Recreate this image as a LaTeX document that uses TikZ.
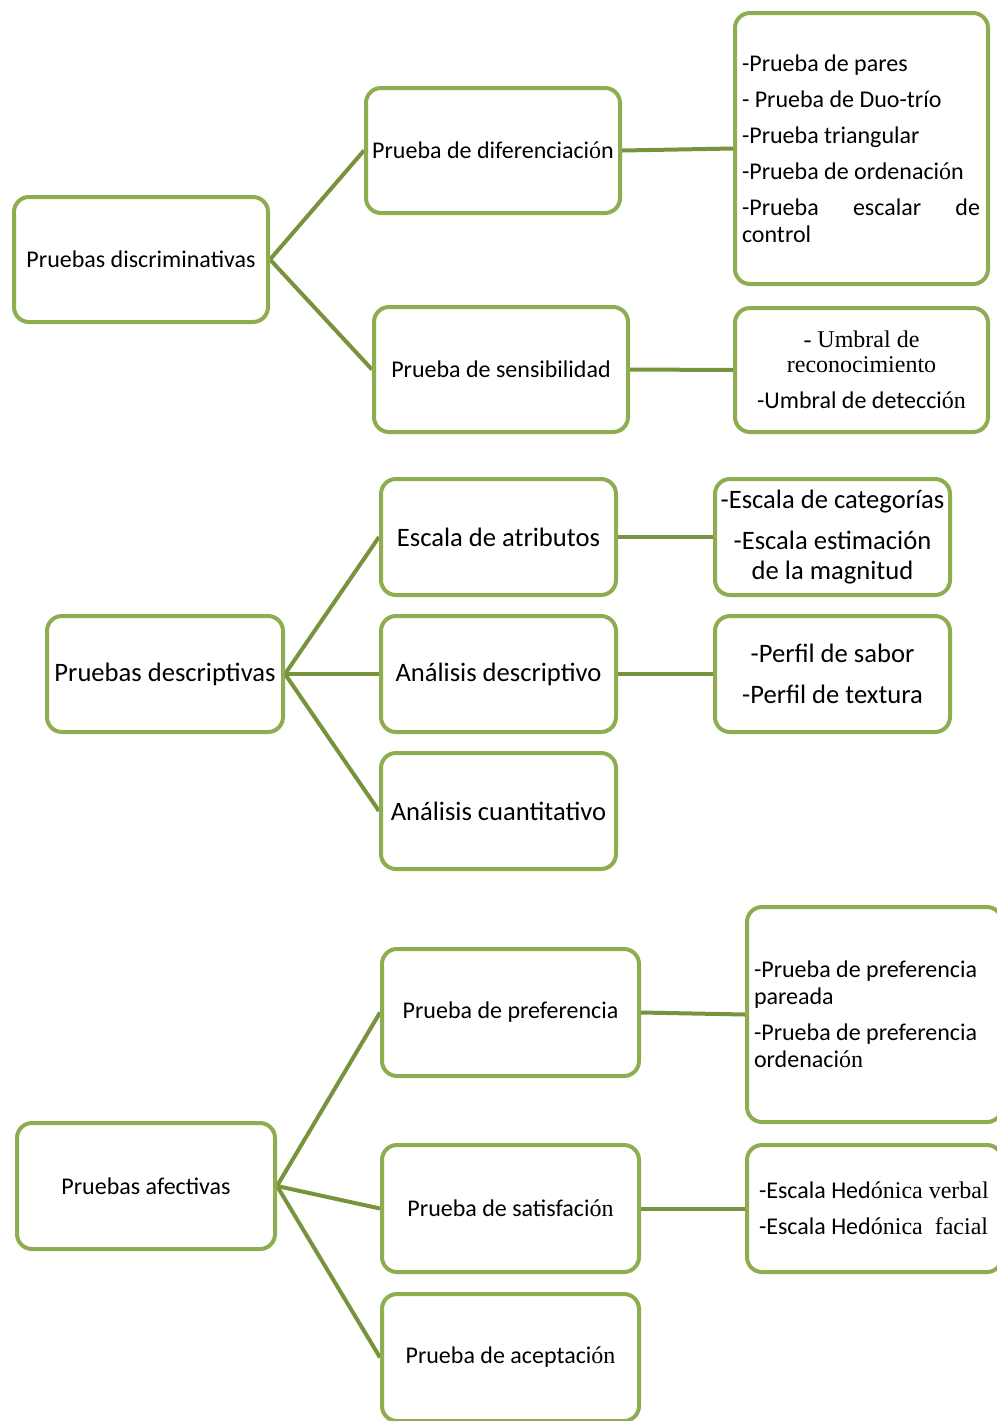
\documentclass[tikz,border=0pt]{standalone}
\usepackage{fontspec}
\setmainfont{Carlito}
\newfontfamily\tnrfont{Liberation Serif}
\newcommand\tn[1]{{\tnrfont #1}}
\usetikzlibrary{backgrounds}
\definecolor{boxgreen}{HTML}{8DAD50}
\definecolor{linkgreen}{HTML}{77933C}
\begin{document}
\begin{tikzpicture}[x=0.5pt,y=-0.5pt,
  box/.style={draw=boxgreen, line width=2pt, rounded corners=7.5pt, fill=white,
    align=center, inner sep=0pt},
  small/.style={font=\fontsize{12}{13.5}\selectfont},
  listtext/.style={font=\fontsize{12}{13.5}\selectfont},
  big/.style={font=\fontsize{13.3}{15}\selectfont},
  link/.style={draw=linkgreen, line width=2pt}]
\useasboundingbox (0,0) rectangle (997,1421);

% --- Pruebas discriminativas ---
\node[box,small,minimum width=127pt,minimum height=62.5pt] (disc) at (141,259.5) {Pruebas discriminativas};
\node[box,small,minimum width=127pt,minimum height=62.5pt] (dif) at (493,150.5) {Prueba de diferenciaci\tn{ó}n};
\node[box,small,minimum width=127pt,minimum height=62.5pt] (sens) at (501,369.5) {Prueba de sensibilidad};
\node[box,listtext,minimum width=126.5pt,minimum height=135.5pt,text width=119.5pt,align=flush left] (dlist) at (861.5,148.5)
  {-Prueba de pares\\[4.5pt]
   - Prueba de Duo-trío\\[4.5pt]
   -Prueba triangular\\[4.5pt]
   -Prueba de ordenaci\tn{ó}n\\[4.5pt]
   \leavevmode\hbox to 119pt{-Prueba\hfill escalar\hfill de}\\
   control};
\node[box,listtext,minimum width=126.5pt,minimum height=62pt,text width=119pt,align=flush center] (umb) at (861.5,370)
  {\tnrfont\fontsize{12}{12.5}\selectfont - Umbral de\\reconocimiento\\[4.5pt]
   \rmfamily -Umbral de detecci\tn{ón}};

% --- Pruebas descriptivas ---
\node[box,big,minimum width=118pt,minimum height=58pt] (desc) at (165,674) {Pruebas descriptivas};
\node[box,big,minimum width=117.5pt,minimum height=58pt] (atr) at (498.5,537) {Escala de atributos};
\node[box,big,minimum width=117.5pt,minimum height=58pt] (adesc) at (498.5,674) {Análisis descriptivo};
\node[box,big,minimum width=117.5pt,minimum height=58pt] (acuan) at (498.5,811) {Análisis cuantitativo};
\node[box,big,minimum width=117.5pt,minimum height=58pt] (cat) at (832.5,537)
  {-Escala de categorías\\[5.5pt]-Escala estimación\\de la magnitud};
\node[box,big,minimum width=117.5pt,minimum height=58pt] (perf) at (832.5,674)
  {-Perfil de sabor\\[5.5pt]-Perfil de textura};

% --- Pruebas afectivas ---
\node[box,small,minimum width=129pt,minimum height=63pt] (afec) at (146,1186) {Pruebas afectivas};
\node[box,small,minimum width=128.5pt,minimum height=63.5pt] (pref) at (510.5,1012.5) {Prueba de preferencia};
\node[box,small,minimum width=128.5pt,minimum height=63.5pt] (sat) at (510.5,1208.5) {Prueba de satisfaci\tn{ón}};
\node[box,small,minimum width=128.5pt,minimum height=63.5pt] (acep) at (510.5,1357.5) {Prueba de aceptaci\tn{ón}};
\node[box,listtext,minimum width=127.5pt,minimum height=107.5pt,text width=120.5pt,align=flush left] (plist) at (874.5,1014.5)
  {-Prueba de preferencia\\pareada\\[4.5pt]
   -Prueba de preferencia\\ordenaci\tn{ón}};
\node[box,listtext,minimum width=127.5pt,minimum height=63.5pt,text width=115.5pt,align=flush left] (hed) at (874.5,1208.5)
  {-Escala Hed\tn{ónica verbal}\\[4.5pt]
   -Escala Hed\tn{ónica\ \ facial}};

% --- connectors ---
\begin{scope}[on background layer]
  \draw[link] (disc.east) -- (dif.west);
  \draw[link] (disc.east) -- (sens.west);
  \draw[link] (dif.east) -- (dlist.west);
  \draw[link] (sens.east) -- (umb.west);
  \draw[link] (desc.east) -- (atr.west);
  \draw[link] (desc.east) -- (adesc.west);
  \draw[link] (desc.east) -- (acuan.west);
  \draw[link] (atr.east) -- (cat.west);
  \draw[link] (adesc.east) -- (perf.west);
  \draw[link] (afec.east) -- (pref.west);
  \draw[link] (afec.east) -- (sat.west);
  \draw[link] (afec.east) -- (acep.west);
  \draw[link] (pref.east) -- (plist.west);
  \draw[link] (sat.east) -- (hed.west);
\end{scope}
\end{tikzpicture}
\end{document}
